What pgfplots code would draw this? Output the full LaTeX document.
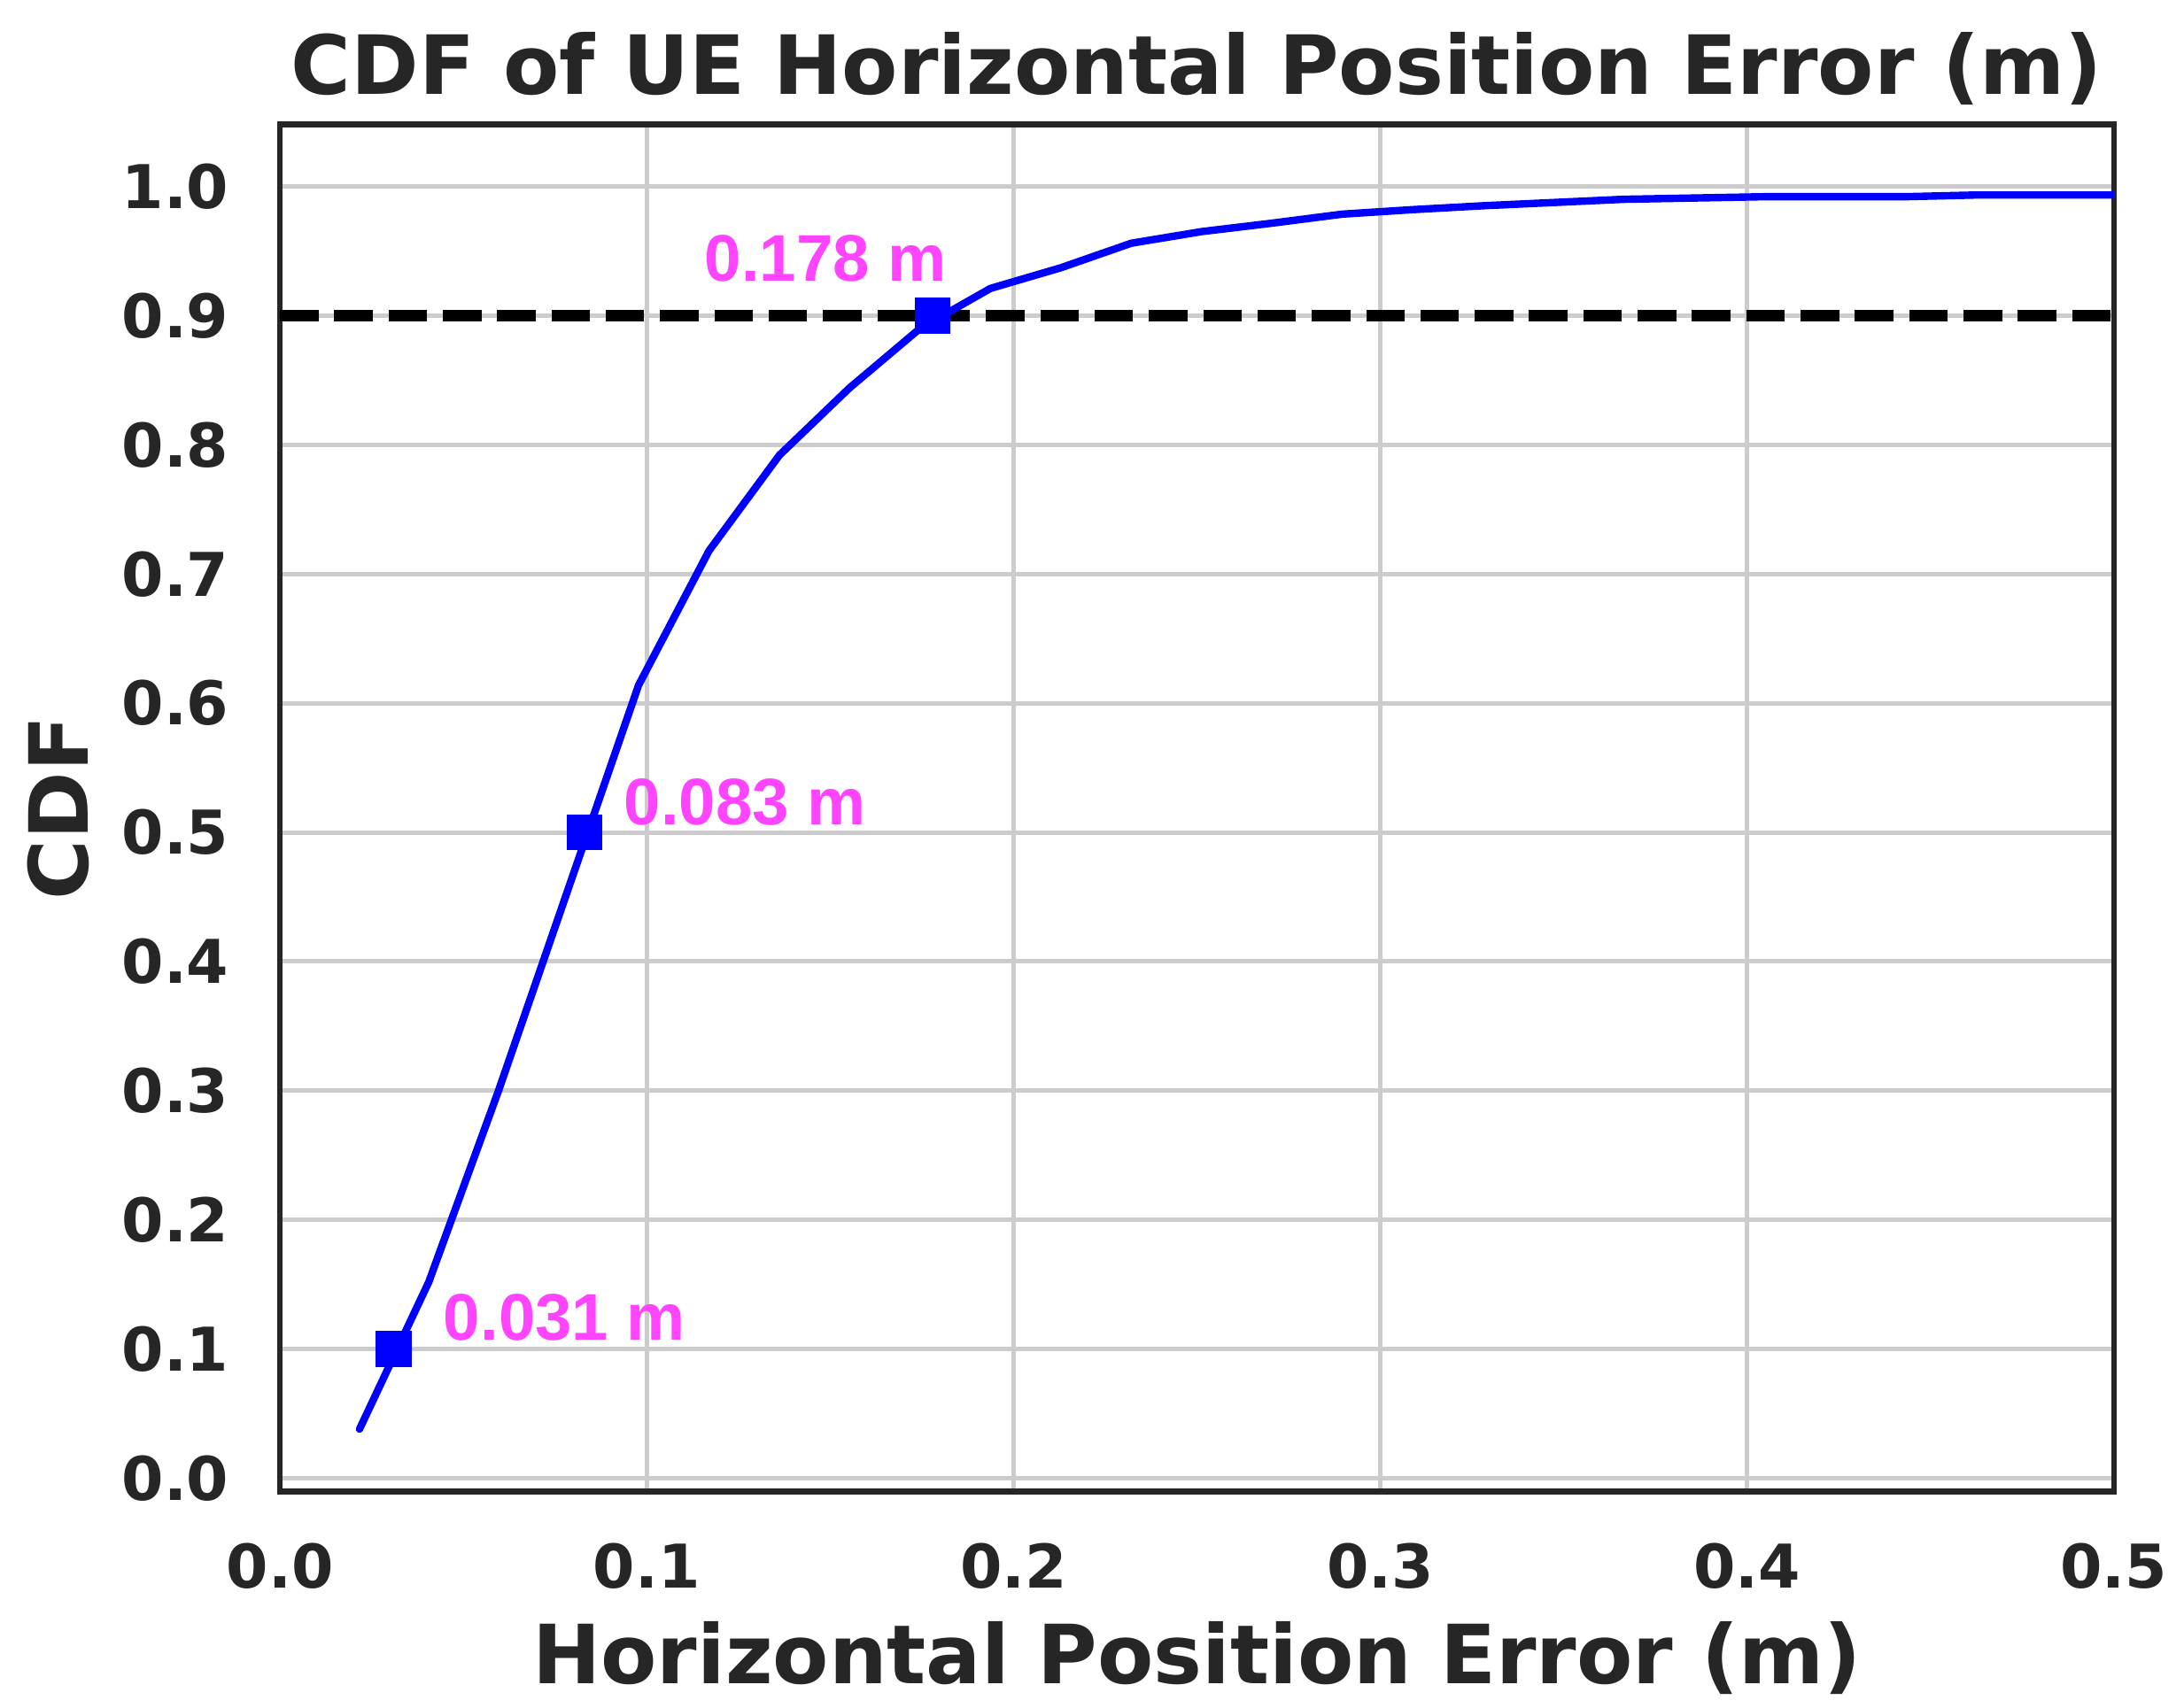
\documentclass[border=0pt]{standalone}
\usepackage{fontspec}
\setmainfont{DejaVu Sans}
\newfontfamily\annfont{Liberation Sans}
\usepackage{pgfplots}
\pgfplotsset{compat=1.18}

\definecolor{txt}{RGB}{38,38,38}
\definecolor{gridgray}{RGB}{204,204,204}
\definecolor{annmag}{RGB}{255,68,255}

\begin{document}
\begin{tikzpicture}
\useasboundingbox (-60.3pt,-46.5pt) rectangle (410.2pt,321.4pt);
\begin{axis}[
  at={(0pt,0pt)}, anchor=south west,
  scale only axis, width=395.1pt, height=294.6pt,
  xmin=0, xmax=0.5, ymin=-0.0103, ymax=1.048,
  xtick={0,0.1,0.2,0.3,0.4,0.5},
  ytick={0,0.1,0.2,0.3,0.4,0.5,0.6,0.7,0.8,0.9,1.0},
  major tick length=0pt,
  xmajorgrids, ymajorgrids,
  major grid style={gridgray, line width=0.95pt},
  axis line style={txt, line width=1.25pt},
  /pgf/number format/assume math mode=true,
  /pgf/number format/.cd, fixed, fixed zerofill, precision=1, /pgfplots/.cd,
  tick label style={font=\bfseries\fontsize{13}{15}\selectfont, text=txt, inner sep=0pt},
  xticklabel style={anchor=base, yshift=-20.7pt},
  yticklabel style={anchor=east, xshift=-10.8pt},
  clip mode=individual,
]
% 90th percentile reference
\addplot[black, line width=2.6pt, dash pattern=on 8.3pt off 3.4pt]
  coordinates {(0,0.9) (0.5,0.9)};

% empirical CDF
\addplot[blue, line width=1.6pt, line cap=round, line join=round] table {
0.0217 0.038
0.0406 0.152
0.0596 0.300
0.0787 0.457
0.0978 0.614
0.1170 0.718
0.1362 0.792
0.1553 0.844
0.1745 0.890
0.1937 0.921
0.2129 0.937
0.2321 0.956
0.2513 0.965
0.2704 0.9715
0.2896 0.9785
0.3088 0.982
0.3280 0.985
0.3471 0.9875
0.3663 0.990
0.3855 0.991
0.4046 0.992
0.4238 0.992
0.4430 0.992
0.4621 0.9933
0.4813 0.9933
0.5005 0.9933
};

% percentile markers
\addplot[only marks, mark=square*, mark size=3.75pt, blue,
  mark options={draw=blue, fill=blue, line width=0pt}]
  coordinates {(0.031,0.1) (0.083,0.5) (0.178,0.9)};

\node[anchor=base west, inner sep=0pt, text=annmag,
  font=\annfont\bfseries\fontsize{14.2}{16}\selectfont] at (axis cs:0.0444,0.107) {0.031 m};
\node[anchor=base west, inner sep=0pt, text=annmag,
  font=\annfont\bfseries\fontsize{14.2}{16}\selectfont] at (axis cs:0.0936,0.5055) {0.083 m};
\node[anchor=base west, inner sep=0pt, text=annmag,
  font=\annfont\bfseries\fontsize{14.2}{16}\selectfont] at (axis cs:0.1156,0.9264) {0.178 m};
\end{axis}

\node[anchor=base, inner sep=0pt, text=txt, font=\bfseries\fontsize{17.6}{20}\selectfont]
  at (197.55pt,301.1pt) {CDF of UE Horizontal Position Error (m)};
\node[anchor=base, inner sep=0pt, text=txt, font=\bfseries\fontsize{17.6}{20}\selectfont]
  at (197.55pt,-41.3pt) {Horizontal Position Error (m)};
\node[anchor=base, rotate=90, inner sep=0pt, text=txt, font=\bfseries\fontsize{17.6}{20}\selectfont]
  at (-41.4pt,147.3pt) {CDF};
\end{tikzpicture}
\end{document}
